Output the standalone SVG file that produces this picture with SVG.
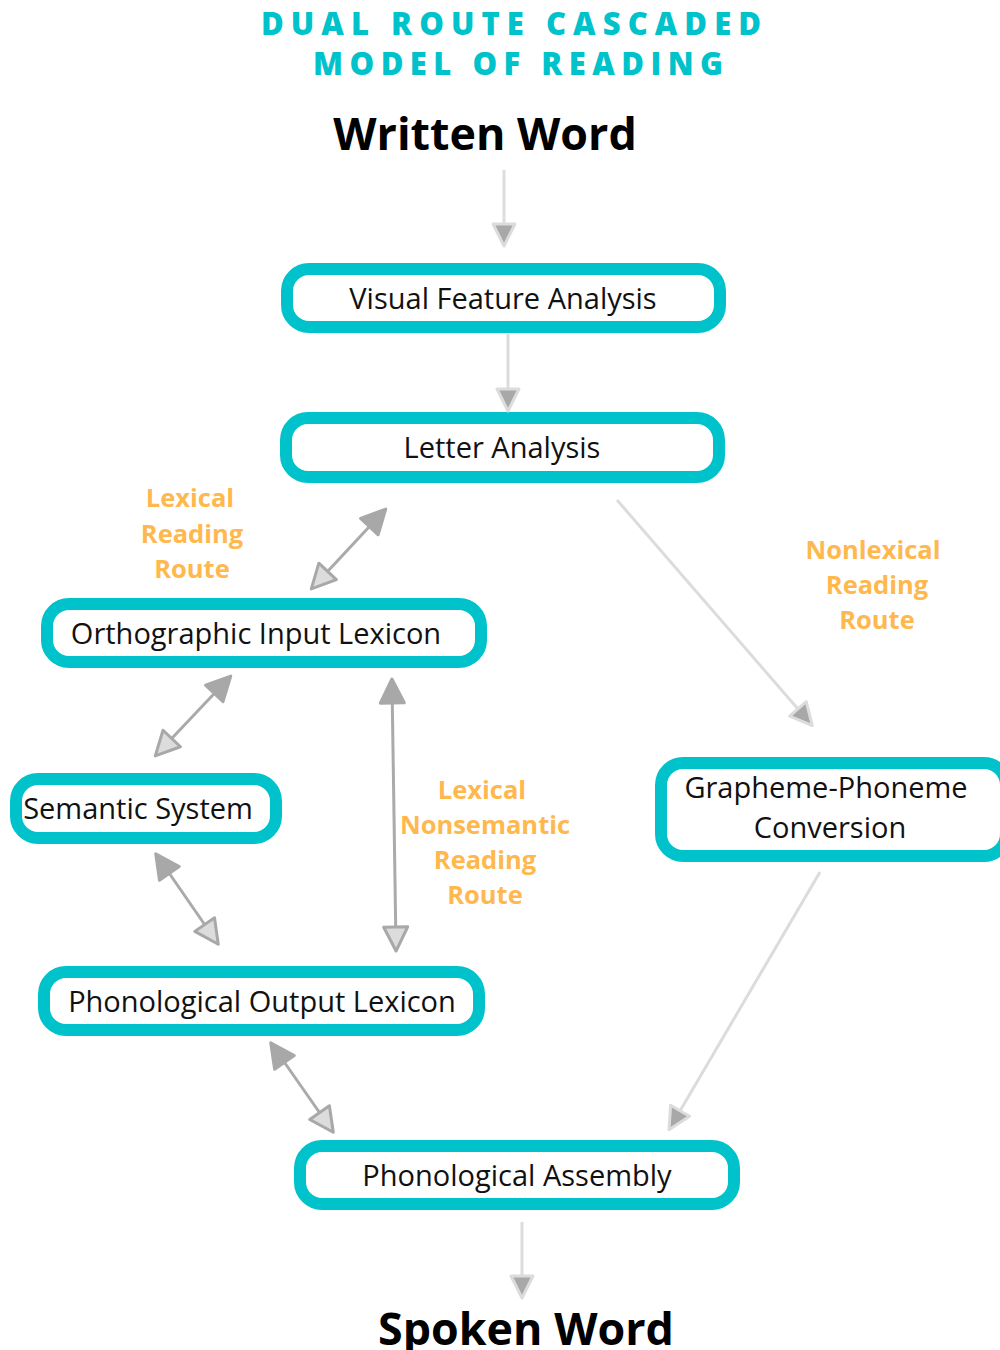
<svg xmlns="http://www.w3.org/2000/svg" width="1000" height="1350" viewBox="0 0 1000 1350">
<style>
.title{font-family:"Open Sans","Liberation Sans",sans-serif;font-weight:800;font-size:31px;fill:#00c2cb;text-anchor:middle}
.big{font-family:"Open Sans","Liberation Sans",sans-serif;font-weight:700;font-size:44.8px;fill:#000;text-anchor:middle}
.box{fill:#fff;stroke:#00c2cb;stroke-width:12}
.lbl{font-family:"Open Sans","Liberation Sans",sans-serif;font-size:29px;fill:#111;text-anchor:middle}
.route{font-family:"Open Sans","Liberation Sans",sans-serif;font-weight:700;font-size:25.5px;fill:#ffb84d;text-anchor:middle}
.one{stroke:#dcdcdc;stroke-width:3;fill:none}
.two{stroke:#aaaaaa;stroke-width:3;fill:none}
</style>
<defs>
<marker id="hd" markerUnits="userSpaceOnUse" viewBox="-4 -4 30 30" markerWidth="30" markerHeight="30" refX="20" refY="11" orient="auto-start-reverse" overflow="visible">
<path d="M0,0 L22,11 L0,22 Z" fill="#a8a8a8" stroke="#dcdcdc" stroke-width="3" stroke-linejoin="round"/>
</marker>
<marker id="hs" markerUnits="userSpaceOnUse" viewBox="-4 -4 30 30" markerWidth="30" markerHeight="30" refX="20" refY="12" orient="auto-start-reverse" overflow="visible">
<path d="M0,0 L24,12 L0,24 Z" fill="#a8a8a8" stroke="#a8a8a8" stroke-width="3" stroke-linejoin="round"/>
</marker>
<marker id="hl" markerUnits="userSpaceOnUse" viewBox="-4 -4 30 30" markerWidth="30" markerHeight="30" refX="20" refY="12" orient="auto-start-reverse" overflow="visible">
<path d="M0,0 L24,12 L0,24 Z" fill="#dcdcdc" stroke="#a8a8a8" stroke-width="3" stroke-linejoin="round"/>
</marker>
</defs>

<g id="title">
<text class="title" x="511" y="35" textLength="500" lengthAdjust="spacing">DUAL ROUTE CASCADED</text>
<text class="title" x="518" y="75" textLength="410" lengthAdjust="spacing">MODEL OF READING</text>
</g>

<g id="written-word"><text class="big" x="485" y="150">Written Word</text></g>
<g id="spoken-word"><text class="big" x="526" y="1345">Spoken Word</text></g>

<g id="visual-feature-analysis">
<rect class="box" x="287" y="269" width="433" height="58" rx="22"/>
<text class="lbl" x="503" y="309">Visual Feature Analysis</text>
</g>
<g id="letter-analysis">
<rect class="box" x="286" y="418" width="433" height="59" rx="22"/>
<text class="lbl" x="502" y="458">Letter Analysis</text>
</g>
<g id="orthographic-input-lexicon">
<rect class="box" x="47" y="604" width="434" height="58" rx="22"/>
<text class="lbl" x="256" y="644">Orthographic Input Lexicon</text>
</g>
<g id="semantic-system">
<rect class="box" x="16" y="779" width="260" height="59" rx="22"/>
<text class="lbl" x="138" y="819">Semantic System</text>
</g>
<g id="grapheme-phoneme-conversion">
<rect class="box" x="661" y="763" width="345" height="93" rx="22"/>
<text class="lbl" x="826" y="798">Grapheme-Phoneme</text>
<text class="lbl" x="830" y="838">Conversion</text>
</g>
<g id="phonological-output-lexicon">
<rect class="box" x="44" y="972" width="435" height="58" rx="22"/>
<text class="lbl" x="262" y="1012">Phonological Output Lexicon</text>
</g>
<g id="phonological-assembly">
<rect class="box" x="300" y="1146" width="434" height="58" rx="22"/>
<text class="lbl" x="517" y="1186">Phonological Assembly</text>
</g>

<g id="route-labels">
<text class="route" x="190" y="507">Lexical</text>
<text class="route" x="192" y="543">Reading</text>
<text class="route" x="192" y="578">Route</text>
<text class="route" x="482" y="799">Lexical</text>
<text class="route" x="485" y="834">Nonsemantic</text>
<text class="route" x="485" y="869">Reading</text>
<text class="route" x="485" y="904">Route</text>
<text class="route" x="873" y="559">Nonlexical</text>
<text class="route" x="877" y="594">Reading</text>
<text class="route" x="877" y="629">Route</text>
</g>

<g id="connectors">
<line class="one" x1="504" y1="170" x2="504" y2="244" marker-end="url(#hd)"/>
<line class="one" x1="508" y1="334" x2="508" y2="409" marker-end="url(#hd)"/>
<line class="one" x1="617" y1="500" x2="811" y2="724" marker-end="url(#hd)"/>
<line class="one" x1="820" y1="872" x2="670" y2="1128" marker-end="url(#hd)"/>
<line class="one" x1="522" y1="1222" x2="522" y2="1296" marker-end="url(#hd)"/>
<line class="two" x1="383" y1="512" x2="314" y2="586" marker-start="url(#hs)" marker-end="url(#hl)"/>
<line class="two" x1="228" y1="679" x2="158" y2="753" marker-start="url(#hs)" marker-end="url(#hl)"/>
<line class="two" x1="392" y1="683" x2="396" y2="947" marker-start="url(#hs)" marker-end="url(#hl)"/>
<line class="two" x1="158" y1="857" x2="216" y2="941" marker-start="url(#hs)" marker-end="url(#hl)"/>
<line class="two" x1="273" y1="1046" x2="331" y2="1129" marker-start="url(#hs)" marker-end="url(#hl)"/>
</g>
</svg>
